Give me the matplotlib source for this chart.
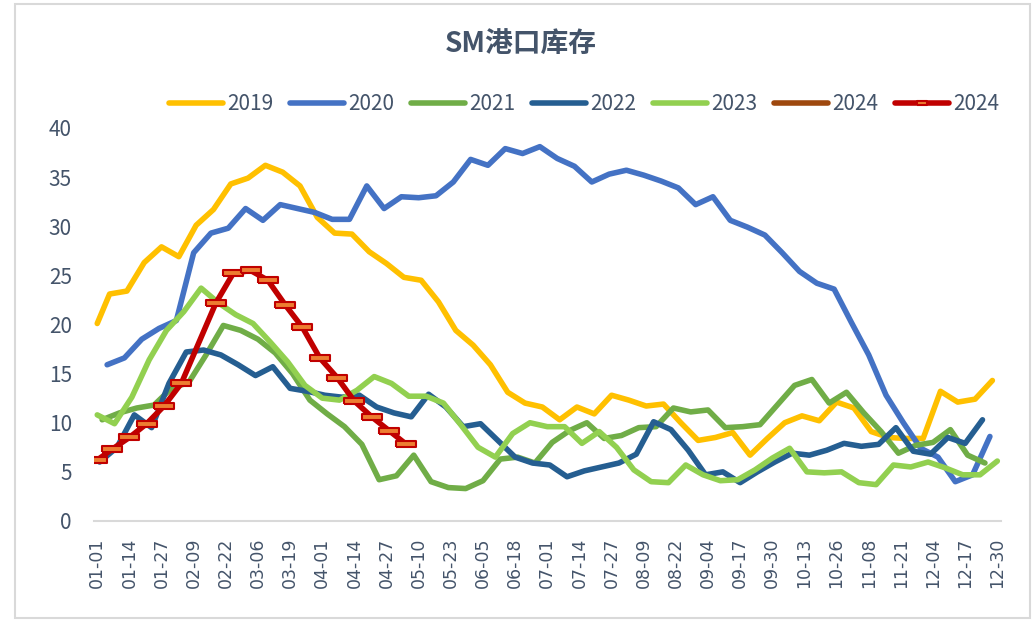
import numpy as np
import matplotlib.pyplot as plt
from matplotlib.patches import Rectangle

plt.rcParams['font.family'] = ['Noto Sans CJK SC', 'DejaVu Sans']

# x positions are day-of-year offsets on a leap-year date axis (01-01 = 0)
tick_labels = ['01-01', '01-14', '01-27', '02-09', '02-22', '03-06', '03-19', '04-01',
               '04-14', '04-27', '05-10', '05-23', '06-05', '06-18', '07-01', '07-14',
               '07-27', '08-09', '08-22', '09-04', '09-17', '09-30', '10-13', '10-26',
               '11-08', '11-21', '12-04', '12-17', '12-30']

days_2019 = [0] + list(range(5, 363, 7))
days_2020 = list(range(4, 362, 7))
days_2021 = list(range(2, 360, 7))
days_2022 = list(range(1, 359, 7))
days_2023 = list(range(0, 365, 7))
days_2024 = [0, 6, 13, 20, 27, 34, 48, 55, 62, 69, 76, 83, 90, 97, 104, 111, 118, 125]

v2019 = [20.1, 23.1, 23.4, 26.3, 27.9, 26.9, 30.1, 31.7, 34.3, 34.9, 36.2, 35.5, 34.1,
         30.9, 29.3, 29.2, 27.4, 26.2, 24.8, 24.5, 22.3, 19.4, 17.9, 15.9, 13.1, 12.0,
         11.6, 10.3, 11.6, 10.9, 12.8, 12.3, 11.7, 11.9, 10.0, 8.2, 8.5, 9.0, 6.7, 8.4,
         10.0, 10.7, 10.2, 12.1, 11.5, 9.1, 8.5, 8.4, 8.4, 13.2, 12.1, 12.4, 14.3]
v2020 = [15.9, 16.6, 18.5, 19.6, 20.4, 27.3, 29.3, 29.8, 31.8, 30.6, 32.2, 31.8, 31.4,
         30.7, 30.7, 34.1, 31.8, 33.0, 32.9, 33.1, 34.5, 36.8, 36.2, 37.9, 37.4, 38.1,
         36.9, 36.1, 34.5, 35.3, 35.7, 35.2, 34.6, 33.9, 32.2, 33.0, 30.6, 29.9, 29.1,
         27.3, 25.4, 24.2, 23.6, 20.2, 16.9, 12.8, 10.0, 7.4, 6.5, 4.0, 4.7, 8.6]
v2021 = [10.3, 11.0, 11.5, 11.8, 13.5, 14.1, 16.9, 19.9, 19.4, 18.5, 17.1, 15.0, 12.3,
         10.9, 9.6, 7.8, 4.2, 4.6, 6.7, 4.0, 3.4, 3.3, 4.1, 6.3, 6.5, 5.9, 8.0, 9.2,
         10.0, 8.4, 8.7, 9.5, 9.6, 11.5, 11.1, 11.3, 9.5, 9.6, 9.8, 11.8, 13.8, 14.4,
         12.0, 13.1, 11.0, 9.1, 6.9, 7.7, 8.0, 9.3, 6.7, 5.9]
v2022 = [6.0, 7.5, 10.8, 9.5, 14.0, 17.2, 17.4, 16.9, 15.9, 14.8, 15.7, 13.5, 13.2,
         12.8, 12.6, 12.8, 11.6, 11.0, 10.6, 12.9, 11.6, 9.6, 9.9, 8.2, 6.5, 5.9, 5.7,
         4.5, 5.1, 5.5, 5.9, 6.8, 10.1, 9.3, 7.2, 4.7, 5.0, 3.9, 5.0, 6.0, 6.9, 6.7,
         7.2, 7.9, 7.6, 7.8, 9.5, 7.1, 6.8, 8.5, 7.9, 10.3]
v2023 = [10.8, 9.9, 12.6, 16.4, 19.4, 21.3, 23.7, 22.2, 21.0, 20.1, 18.2, 16.2, 13.8,
         12.5, 12.3, 13.3, 14.7, 14.0, 12.7, 12.7, 12.0, 9.8, 7.5, 6.5, 8.9, 10.0, 9.6,
         9.6, 7.9, 9.1, 7.5, 5.2, 4.0, 3.9, 5.7, 4.7, 4.1, 4.2, 5.2, 6.4, 7.4, 5.0, 4.9,
         5.0, 3.9, 3.7, 5.7, 5.5, 6.0, 5.4, 4.7, 4.7, 6.1]
v2024 = [6.2, 7.3, 8.5, 9.9, 11.7, 14.0, 22.2, 25.2, 25.5, 24.5, 22.0, 19.7, 16.6,
         14.6, 12.2, 10.6, 9.2, 7.8]

txt = '#44546A'

fig = plt.figure(figsize=(10.32, 6.2), dpi=100)
fig.patches.append(Rectangle((15 / 1032, 0.003), 1 - 15 / 1032 - 0.002, 0.99,
                             transform=fig.transFigure, fill=False,
                             edgecolor='#D9D9D9', lw=1.5))
ax = fig.add_axes([0.0911, 0.1597, 0.8789, 0.6339])

lw = 4
ax.plot(days_2019, v2019, color='#FFC000', lw=lw, label='2019', solid_capstyle='round')
ax.plot(days_2020, v2020, color='#4472C4', lw=lw, label='2020', solid_capstyle='round')
ax.plot(days_2021, v2021, color='#70AD47', lw=lw, label='2021', solid_capstyle='round')
ax.plot(days_2022, v2022, color='#255E91', lw=lw, label='2022', solid_capstyle='round')
ax.plot(days_2023, v2023, color='#92D050', lw=lw, label='2023', solid_capstyle='round')
ax.plot([], [], color='#9E480E', lw=lw, label='2024', solid_capstyle='round')
dash = [(-1, -0.32), (1, -0.32), (1, 0.32), (-1, 0.32), (-1, -0.32)]
ax.plot(days_2024, v2024, color='#C00000', lw=lw, label='2024', marker=dash,
        markersize=15, markerfacecolor='#ED7D31', markeredgecolor='#C00000',
        markeredgewidth=1.5, solid_capstyle='round')

ax.set_xlim(-1.3, 365.5)
ax.set_ylim(0, 40)
ax.set_yticks(range(0, 41, 5))
ax.set_xticks(range(0, 365, 13))
ax.set_xticklabels(tick_labels, rotation=90, family='DejaVu Sans')
ax.tick_params(axis='x', length=0, pad=12, labelsize=12.5, labelcolor=txt)
ax.tick_params(axis='y', length=0, pad=16, labelsize=15, labelcolor=txt)
for s in ['top', 'right', 'left']:
    ax.spines[s].set_visible(False)
ax.spines['bottom'].set_color('#D9D9D9')
ax.spines['bottom'].set_linewidth(1.5)

fig.text(0.505, 0.928, 'SM港口库存', ha='center', va='center', fontsize=20,
         fontweight='bold', color=txt)

leg = fig.legend(loc='center', bbox_to_anchor=(0.566, 0.832), ncol=7, frameon=False,
                 fontsize=15, labelcolor=txt, handlelength=2.6, handletextpad=0.2,
                 columnspacing=0.8)
leg.legend_handles[6].set_markersize(7)

fig.savefig('out.png', dpi=100)
